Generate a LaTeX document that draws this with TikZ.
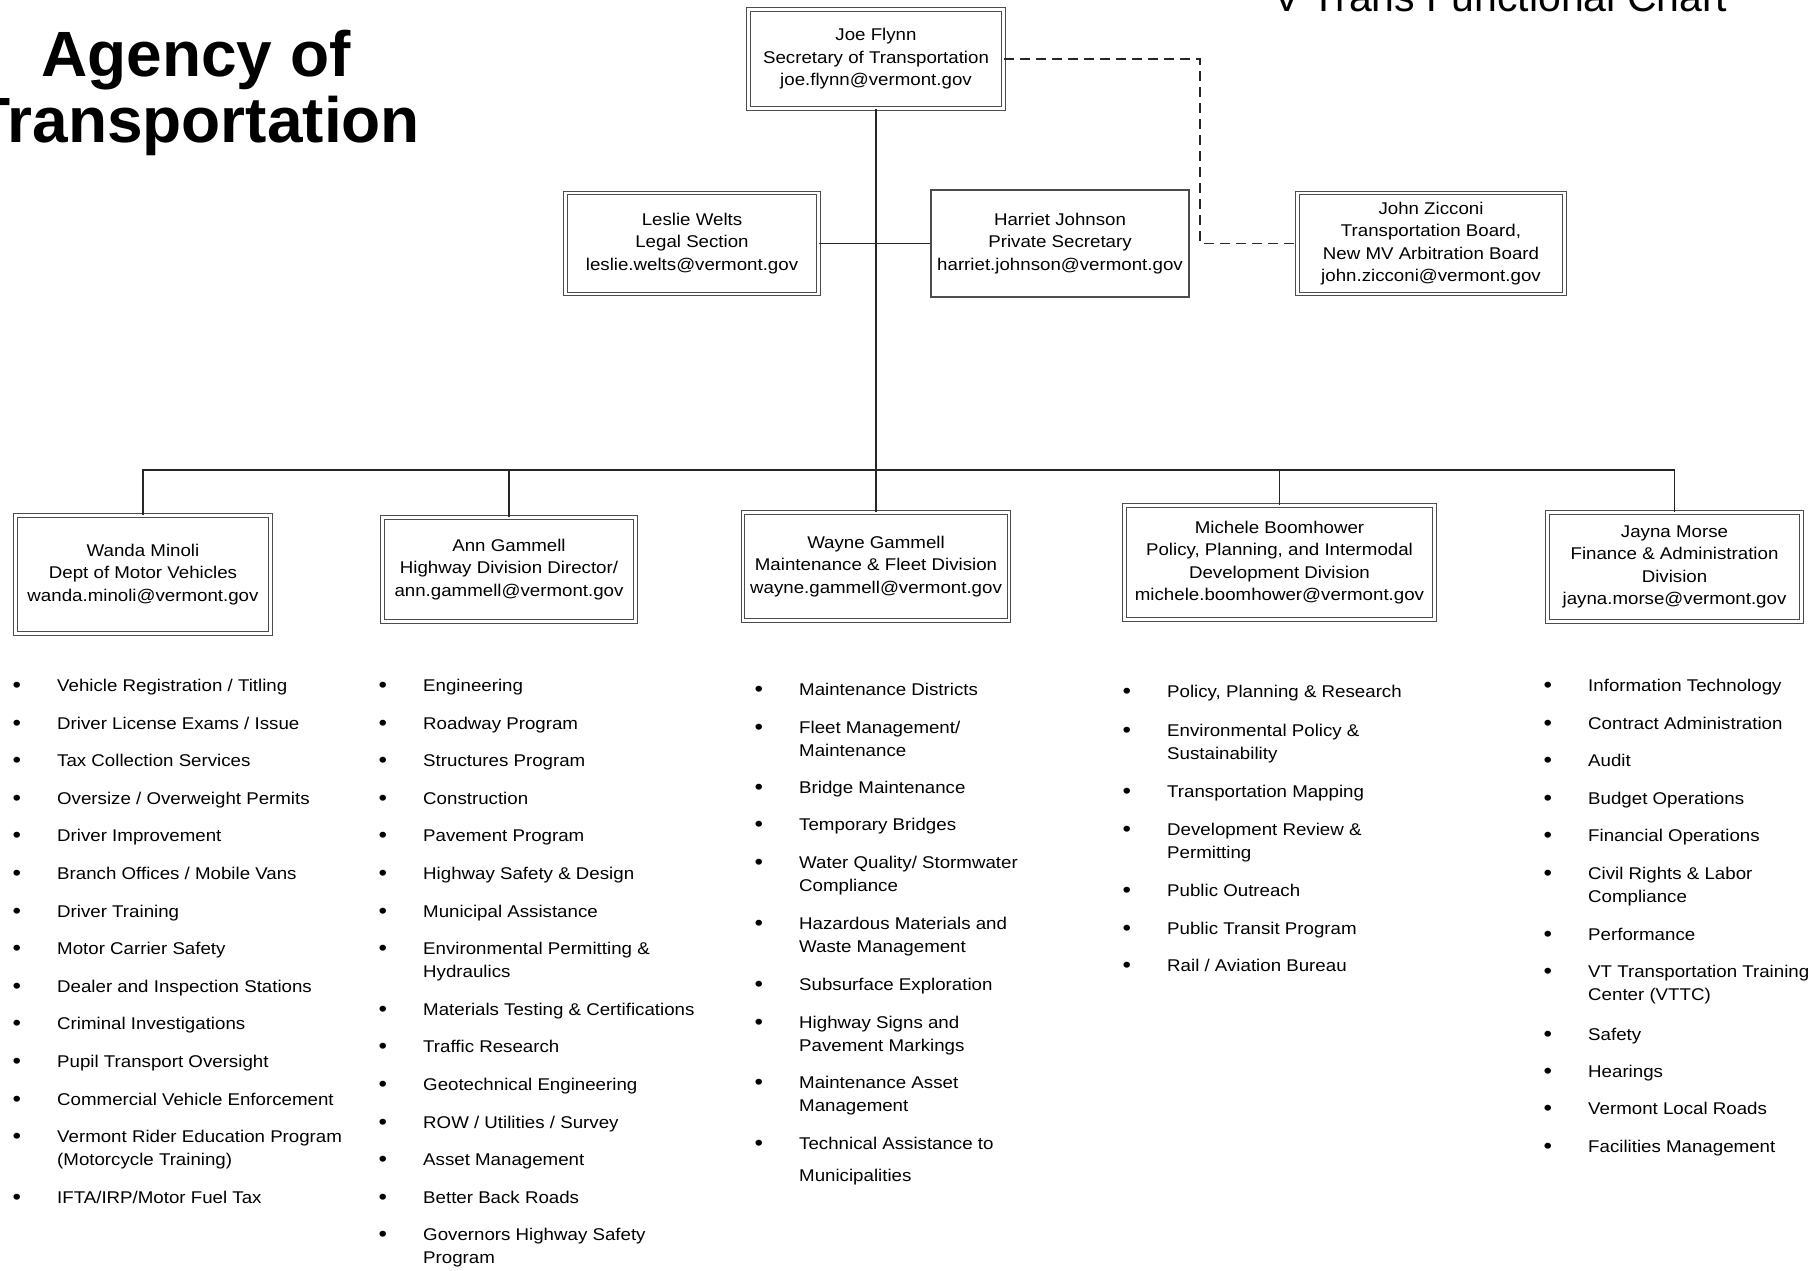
\documentclass[tikz,border=0pt]{standalone}
\usepackage{fontspec}
\setmainfont{Liberation Sans}[FakeStretch=1.1]
\newfontfamily\headfont{Liberation Sans}
\newcommand{\bul}{\llap{\raisebox{-1pt}{\fontsize{22pt}{22pt}\selectfont\textbullet}\hspace{36pt}}}

\begin{document}
\begin{tikzpicture}[x=1pt, y=-1pt,
    box/.style={draw=black!70, line width=1.1pt, fill=white, align=center, inner sep=0pt,
      font=\fontsize{17pt}{22.5pt}\selectfont},
    dbox/.style={box, double=white, double distance=2.6pt},
    link/.style={black!85, line width=1.4pt},
    dlink/.style={link, dash pattern=on 10pt off 6pt},
    li/.style={anchor=base west, align=left, inner sep=0pt,
      font=\fontsize{17pt}{23pt}\selectfont}]
  \useasboundingbox (0,0) rectangle (1813,1270);

  % titles
  \draw (196,76) node[anchor=base, font=\headfont\bfseries\fontsize{64pt}{64pt}\selectfont](title1){Agency of};
  \draw (196,142) node[anchor=base, font=\headfont\bfseries\fontsize{64pt}{64pt}\selectfont](title2){Transportation};
  \draw (1273,11) node[anchor=base west, inner sep=0pt, font=\headfont\fontsize{41pt}{41pt}\selectfont](chart){V Trans Functional Chart};

  % top of the chart
  \draw (876,59) node[dbox, minimum width=255pt, minimum height=99pt](joe){Joe Flynn\\Secretary of Transportation\\joe.flynn@vermont.gov};
  \draw (692,243.5) node[dbox, minimum width=253pt, minimum height=101pt](leslie){Leslie Welts\\Legal Section\\leslie.welts@vermont.gov};
  \draw (1060,243.5) node[box, minimum width=258pt, minimum height=107pt](harriet){Harriet Johnson\\Private Secretary\\harriet.johnson@vermont.gov};
  \draw (1431,243.5) node[dbox, minimum width=267pt, minimum height=101pt](john){John Zicconi\\Transportation Board,\\New MV Arbitration Board\\john.zicconi@vermont.gov};

  % divisions
  \draw (143,574.5) node[dbox, minimum width=255pt, minimum height=118pt](wanda){Wanda Minoli\\Dept of Motor Vehicles\\wanda.minoli@vermont.gov};
  \draw (509,569.5) node[dbox, minimum width=253pt, minimum height=104pt](ann){Ann Gammell\\Highway Division Director/\\ann.gammell@vermont.gov};
  \draw (876,566.5) node[dbox, minimum width=266pt, minimum height=108pt](wayne){Wayne Gammell\\Maintenance \& Fleet Division\\wayne.gammell@vermont.gov};
  \draw (1279.5,562.5) node[dbox, minimum width=310pt, minimum height=114pt](michele){Michele Boomhower\\Policy, Planning, and Intermodal\\Development Division\\michele.boomhower@vermont.gov};
  \draw (1674.5,567) node[dbox, minimum width=254pt, minimum height=109pt](jayna){Jayna Morse\\Finance \& Administration\\Division\\jayna.morse@vermont.gov};

  \coordinate (hub) at (876,470);
  \coordinate (turn) at (1200,59);

  \begin{scope}[link]
    \path (joe) edge (hub);
    \path (leslie) edge (harriet);
    \draw (wanda) |- (hub) -| (jayna);
    \draw (ann) |- (hub);
    \draw (wayne) -- (hub);
    \draw (michele) |- (hub);
  \end{scope}
  \draw[dlink] (joe.east) -- (turn) |- (john);

  % Dept of Motor Vehicles
  \node[li] (dmv1) at (57,691) {\bul Vehicle Registration / Titling};
  \node[li] (dmv2) at (57,729) {\bul Driver License Exams / Issue};
  \node[li] (dmv3) at (57,766) {\bul Tax Collection Services};
  \node[li] (dmv4) at (57,804) {\bul Oversize / Overweight Permits};
  \node[li] (dmv5) at (57,841) {\bul Driver Improvement};
  \node[li] (dmv6) at (57,879) {\bul Branch Offices / Mobile Vans};
  \node[li] (dmv7) at (57,917) {\bul Driver Training};
  \node[li] (dmv8) at (57,954) {\bul Motor Carrier Safety};
  \node[li] (dmv9) at (57,992) {\bul Dealer and Inspection Stations};
  \node[li] (dmv10) at (57,1029) {\bul Criminal Investigations};
  \node[li] (dmv11) at (57,1067) {\bul Pupil Transport Oversight};
  \node[li] (dmv12) at (57,1105) {\bul Commercial Vehicle Enforcement};
  \node[li] (dmv13) at (57,1165) {\bul Vermont Rider Education Program\\(Motorcycle Training)};
  \node[li] (dmv14) at (57,1203) {\bul IFTA/IRP/Motor Fuel Tax};

  % Highway Division
  \node[li] (hwy1) at (423,691) {\bul Engineering};
  \node[li] (hwy2) at (423,729) {\bul Roadway Program};
  \node[li] (hwy3) at (423,766) {\bul Structures Program};
  \node[li] (hwy4) at (423,804) {\bul Construction};
  \node[li] (hwy5) at (423,841) {\bul Pavement Program};
  \node[li] (hwy6) at (423,879) {\bul Highway Safety \& Design};
  \node[li] (hwy7) at (423,917) {\bul Municipal Assistance};
  \node[li] (hwy8) at (423,977) {\bul Environmental Permitting \&\\Hydraulics};
  \node[li] (hwy9) at (423,1015) {\bul Materials Testing \& Certifications};
  \node[li] (hwy10) at (423,1052) {\bul Traffic Research};
  \node[li] (hwy11) at (423,1090) {\bul Geotechnical Engineering};
  \node[li] (hwy12) at (423,1128) {\bul ROW / Utilities / Survey};
  \node[li] (hwy13) at (423,1165) {\bul Asset Management};
  \node[li] (hwy14) at (423,1203) {\bul Better Back Roads};
  \node[li] (hwy15) at (423,1263) {\bul Governors Highway Safety\\Program};

  % Maintenance & Fleet
  \node[li] (mnt1) at (799,695) {\bul Maintenance Districts};
  \node[li] (mnt2) at (799,756) {\bul Fleet Management/\\Maintenance};
  \node[li] (mnt3) at (799,793) {\bul Bridge Maintenance};
  \node[li] (mnt4) at (799,830) {\bul Temporary Bridges};
  \node[li] (mnt5) at (799,891) {\bul Water Quality/ Stormwater\\Compliance};
  \node[li] (mnt6) at (799,952) {\bul Hazardous Materials and\\Waste Management};
  \node[li] (mnt7) at (799,990) {\bul Subsurface Exploration};
  \node[li] (mnt8) at (799,1051) {\bul Highway Signs and\\Pavement Markings};
  \node[li] (mnt9) at (799,1111) {\bul Maintenance Asset\\Management};
  \node[li] (mnt10) at (799,1181) {\bul Technical Assistance to\\[9pt]Municipalities};

  % Policy, Planning & Intermodal
  \node[li] (ppd1) at (1167,697) {\bul Policy, Planning \& Research};
  \node[li] (ppd2) at (1167,759) {\bul Environmental Policy \&\\Sustainability};
  \node[li] (ppd3) at (1167,797) {\bul Transportation Mapping};
  \node[li] (ppd4) at (1167,858) {\bul Development Review \&\\Permitting};
  \node[li] (ppd5) at (1167,896) {\bul Public Outreach};
  \node[li] (ppd6) at (1167,934) {\bul Public Transit Program};
  \node[li] (ppd7) at (1167,971) {\bul Rail / Aviation Bureau};

  % Finance & Administration
  \node[li] (fin1) at (1588,691) {\bul Information Technology};
  \node[li] (fin2) at (1588,729) {\bul Contract Administration};
  \node[li] (fin3) at (1588,766) {\bul Audit};
  \node[li] (fin4) at (1588,804) {\bul Budget Operations};
  \node[li] (fin5) at (1588,841) {\bul Financial Operations};
  \node[li] (fin6) at (1588,902) {\bul Civil Rights \& Labor\\Compliance};
  \node[li] (fin7) at (1588,940) {\bul Performance};
  \node[li] (fin8) at (1588,1000) {\bul VT Transportation Training\\Center (VTTC)};
  \node[li] (fin9) at (1588,1040) {\bul Safety};
  \node[li] (fin10) at (1588,1077) {\bul Hearings};
  \node[li] (fin11) at (1588,1114) {\bul Vermont Local Roads};
  \node[li] (fin12) at (1588,1152) {\bul Facilities Management};
\end{tikzpicture}
\end{document}
